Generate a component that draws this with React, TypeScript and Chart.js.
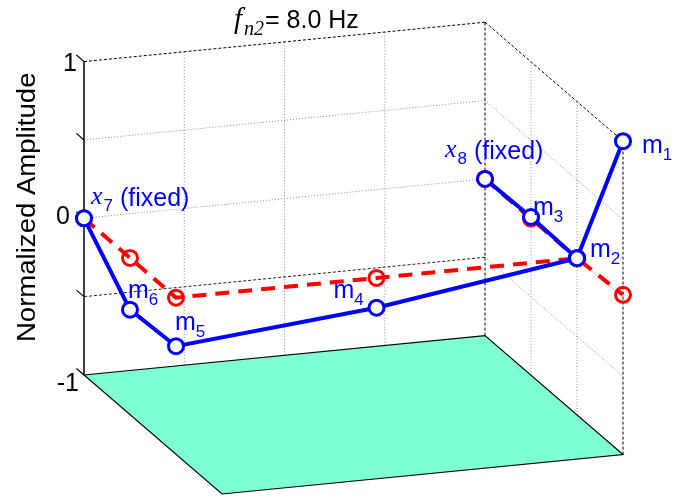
import React, { useEffect, useRef } from "react";
import { Chart, registerables } from "chart.js";

Chart.register(...registerables);

// Frame nodes: position along the frame (0..1) and depth into the frame (0..1)
const nodeNames = ["x7", "m6", "m5", "m4", "m2", "m1", "x8", "m3"];
const nodeAlong = [0, 0, 0, 0.5, 1, 1, 1, 1];
const nodeDepth = [0, 1 / 3, 2 / 3, 2 / 3, 2 / 3, 1, 0, 1 / 3];

// Normalized vertical amplitude at each node
const modeAmplitude = [0, -0.33, -0.31, -0.19, 0.0, 1.0, 0, 0.01];
const referenceAmplitude = [0, 0, 0, 0, 0, 0.02, 0, 0];

// Members joining the nodes (indices into the node arrays)
const memberPathA = [0, 1, 2, 3, 4, 5];
const memberPathB = [6, 7, 4];

// Label pieces for each node
const labelSymbol = ["x", "m", "m", "m", "m", "m", "x", "m"];
const labelIndex = ["7", "6", "5", "4", "2", "1", "8", "3"];
const labelNote = [" (fixed)", "", "", "", "", "", " (fixed)", ""];

// Amplitude axis
const zTicks = [-1, -0.5, 0, 0.5, 1];
const zTickLabels = ["-1", "", "0", "", "1"];
const alongGrid = [0.25, 0.5, 0.75];
const depthGrid = [1 / 3, 2 / 3];

const titleSymbol = "f";
const titleSub = "n2";
const titleText = "= 8.0 Hz";
const axisTitle = "Normalized Amplitude";

// ---- view / layout ----
const W = 685;
const H = 499;
const ORIGIN_X = 84;
const ORIGIN_Y = 218.3;
const ALONG_U = 401;
const ALONG_V = 39.4;
const DEPTH_U = 138;
const DEPTH_V = -119;
const Z_V = 156.7;

// oblique projection of (along, depth, amplitude) into the 2-D view plane
function project(a: number, d: number, z: number) {
  return { x: a * ALONG_U + d * DEPTH_U, y: a * ALONG_V + d * DEPTH_V + z * Z_V };
}

// label placement relative to each blue marker (px)
const labelDx = [7, -2, -1, -43, 13, 19, -40, 2];
const labelDy = [-14, -12, -16, -10, -1, 12, -22, -2];
// tick label placement (right edge x, vertical offset)
const tickRight = [79, 0, 70, 0, 77];
const tickDy = [9, 0, -1, 0, 3];

const SANS = '"Liberation Sans", Arial, sans-serif';
const SERIF = '"Liberation Serif", "Times New Roman", serif';
const BLUE = "#0000ff";
const RED = "#ff0000";
const FLOOR = "#7fffd4";

function toPx(chart: any, a: number, d: number, z: number): [number, number] {
  const p = project(a, d, z);
  return [chart.scales.x.getPixelForValue(p.x), chart.scales.y.getPixelForValue(p.y)];
}

function seg(ctx: CanvasRenderingContext2D, p: [number, number], q: [number, number]) {
  ctx.beginPath();
  ctx.moveTo(p[0], p[1]);
  ctx.lineTo(q[0], q[1]);
  ctx.stroke();
}

const framePlugin = {
  id: "frame3d",
  beforeDatasetsDraw(chart: any) {
    const ctx: CanvasRenderingContext2D = chart.ctx;
    const P = (a: number, d: number, z: number) => toPx(chart, a, d, z);
    ctx.save();

    // floor patch at amplitude -1
    const f = [P(0, 0, -1), P(1, 0, -1), P(1, 1, -1), P(0, 1, -1)];
    ctx.beginPath();
    ctx.moveTo(f[0][0], f[0][1]);
    for (let i = 1; i < 4; i++) ctx.lineTo(f[i][0], f[i][1]);
    ctx.closePath();
    ctx.fillStyle = FLOOR;
    ctx.fill();

    // dotted grid on the back wall and right wall
    ctx.lineWidth = 1;
    ctx.strokeStyle = "#8a8a8a";
    ctx.setLineDash([1, 2]);
    alongGrid.forEach((a) => seg(ctx, P(a, 0, -1), P(a, 0, 1)));
    depthGrid.forEach((d) => seg(ctx, P(1, d, -1), P(1, d, 1)));
    zTicks.forEach((z) => {
      if (z === -1 || z === 1) return;
      if (z !== -0.5) seg(ctx, P(0, 0, z), P(1, 0, z));
      seg(ctx, P(1, 0, z), P(1, 1, z));
    });
    ctx.strokeStyle = "#222";
    ctx.setLineDash([3, 2]);
    seg(ctx, P(0, 0, -0.5), P(1, 0, -0.5));

    // dashed box edges
    ctx.strokeStyle = "#000";
    ctx.setLineDash([3, 2]);
    seg(ctx, P(0, 0, 1), P(1, 0, 1));
    seg(ctx, P(1, 0, 1), P(1, 1, 1));
    seg(ctx, P(1, 0, -1), P(1, 0, 1));
    seg(ctx, P(1, 1, -1), P(1, 1, 1));

    // solid floor outline
    ctx.setLineDash([]);
    ctx.lineWidth = 1.2;
    ctx.beginPath();
    ctx.moveTo(f[0][0], f[0][1]);
    for (let i = 1; i < 4; i++) ctx.lineTo(f[i][0], f[i][1]);
    ctx.closePath();
    ctx.stroke();

    // amplitude axis with ticks
    ctx.lineWidth = 1.5;
    seg(ctx, P(0, 0, -1), P(0, 0, 1));
    ctx.lineWidth = 1.2;
    zTicks.forEach((z, i) => {
      const p = P(0, 0, z);
      const q = P(0, -0.055, z);
      seg(ctx, p, q);
      if (zTickLabels[i]) {
        ctx.fillStyle = "#000";
        ctx.font = `25px ${SANS}`;
        ctx.textAlign = "right";
        ctx.textBaseline = "middle";
        ctx.fillText(zTickLabels[i], tickRight[i], p[1] + tickDy[i]);
      }
    });

    // axis title
    const mid = (P(0, 0, -1)[1] + P(0, 0, 1)[1]) / 2;
    ctx.save();
    ctx.translate(35, mid - 11);
    ctx.rotate(-Math.PI / 2);
    ctx.scale(1.06, 1);
    ctx.fillStyle = "#000";
    ctx.font = `26px ${SANS}`;
    ctx.textAlign = "center";
    ctx.textBaseline = "alphabetic";
    ctx.fillText(axisTitle, 0, 0);
    ctx.restore();

    // title
    ctx.fillStyle = "#000";
    ctx.textAlign = "left";
    ctx.textBaseline = "alphabetic";
    let tx = 234;
    ctx.font = `italic 29px ${SERIF}`;
    ctx.fillText(titleSymbol, tx, 28);
    tx += ctx.measureText(titleSymbol).width + 2;
    ctx.font = `italic 20px ${SERIF}`;
    ctx.fillText(titleSub, tx, 35);
    tx += ctx.measureText(titleSub).width + 1;
    ctx.font = `25px ${SANS}`;
    ctx.fillText(titleText, tx, 28);

    ctx.restore();
  },
  afterDatasetsDraw(chart: any) {
    const ctx: CanvasRenderingContext2D = chart.ctx;
    ctx.save();
    ctx.fillStyle = BLUE;
    ctx.textAlign = "left";
    ctx.textBaseline = "alphabetic";
    nodeNames.forEach((_, i) => {
      const [mx, my] = toPx(chart, nodeAlong[i], nodeDepth[i], modeAmplitude[i]);
      let x = mx + labelDx[i];
      const y = my + labelDy[i];
      const isX = labelSymbol[i] === "x";
      ctx.font = isX ? `italic 26px ${SERIF}` : `25px ${SANS}`;
      ctx.fillText(labelSymbol[i], x, y);
      x += ctx.measureText(labelSymbol[i]).width + (isX ? 1 : 0);
      ctx.font = `17px ${SANS}`;
      ctx.fillText(labelIndex[i], x, y + 7);
      x += ctx.measureText(labelIndex[i]).width;
      if (labelNote[i]) {
        ctx.font = `25px ${SANS}`;
        ctx.fillText(labelNote[i], x, y + 2);
      }
    });
    ctx.restore();
  },
};

function pathPoints(path: number[], amp: number[]) {
  return path.map((i) => project(nodeAlong[i], nodeDepth[i], amp[i]));
}

export default function App() {
  const ref = useRef<HTMLCanvasElement>(null);

  useEffect(() => {
    const canvas = ref.current;
    if (!canvas) return;

    const blue = {
      showLine: true,
      borderColor: BLUE,
      borderWidth: 4,
      pointRadius: 7.5,
      pointBorderWidth: 3,
      pointBorderColor: BLUE,
      pointBackgroundColor: "#ffffff",
      clip: false as const,
      order: 0,
    };
    const red = {
      showLine: true,
      borderColor: RED,
      borderWidth: 4,
      borderDash: [14, 9],
      pointRadius: 7.5,
      pointBorderWidth: 3,
      pointBorderColor: RED,
      pointBackgroundColor: "rgba(255,255,255,0)",
      clip: false as const,
      order: 1,
    };

    const chart = new Chart(canvas, {
      type: "scatter",
      data: {
        datasets: [
          { ...blue, data: pathPoints(memberPathA, modeAmplitude) },
          { ...blue, data: pathPoints(memberPathB, modeAmplitude) },
          { ...red, data: pathPoints(memberPathA, referenceAmplitude) },
          { ...red, data: pathPoints(memberPathB, referenceAmplitude) },
        ],
      },
      options: {
        responsive: false,
        animation: false,
        devicePixelRatio: 1,
        events: [],
        layout: { padding: 0, autoPadding: false },
        scales: {
          x: { type: "linear", display: false, min: -ORIGIN_X, max: W - ORIGIN_X },
          y: { type: "linear", display: false, min: -(H - ORIGIN_Y), max: ORIGIN_Y },
        },
        plugins: {
          legend: { display: false },
          tooltip: { enabled: false },
          title: { display: false },
        },
      },
      plugins: [framePlugin],
    });
    return () => chart.destroy();
  }, []);

  return (
    <div style={{ position: "fixed", left: 0, top: 0, width: W, height: H, background: "#fff" }}>
      <canvas ref={ref} width={W} height={H} style={{ display: "block", width: W, height: H }} />
    </div>
  );
}
